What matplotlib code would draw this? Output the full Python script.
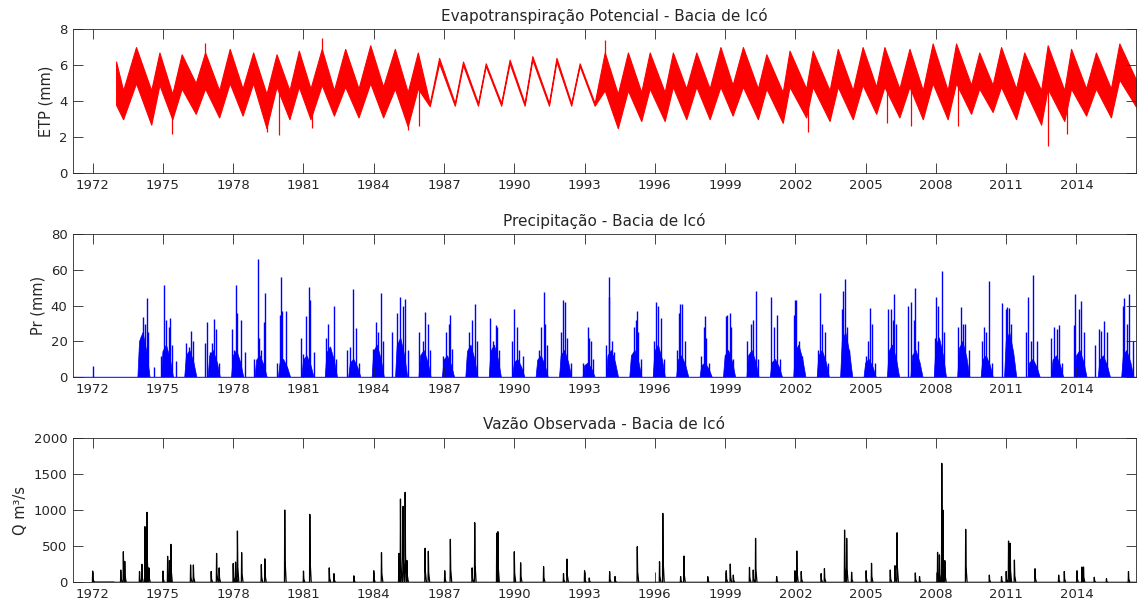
import numpy as np
import matplotlib
matplotlib.use('Agg')
import matplotlib.pyplot as plt

# Eixo do tempo (anos decimais)
x_ini, x_fim = 1971.16, 2016.54
anos_ticks = list(range(1972, 2015, 3))

# ETP: pontos de máximo/mínimo sazonal com faixa (inferior, superior)
etp_t = [1973.0, 1973.3, 1973.85, 1974.5, 1974.85, 1975.4, 1975.8, 1976.4, 1976.8,
         1977.4, 1977.85, 1978.4, 1978.85, 1979.42, 1979.85, 1980.4, 1980.8, 1981.3,
         1981.78, 1982.3, 1982.78, 1983.35, 1983.85, 1984.4, 1984.9, 1985.45, 1985.88,
         1986.39, 1986.79, 1987.46, 1987.81, 1988.45, 1988.78, 1989.44, 1989.8, 1990.44,
         1990.77, 1991.48, 1991.8, 1992.43, 1992.79, 1993.43, 1993.86, 1994.42, 1994.85,
         1995.42, 1995.78, 1996.42, 1996.77, 1997.34, 1997.77, 1998.34, 1998.8, 1999.32,
         1999.76, 2000.4, 2000.76, 2001.46, 2001.75, 2002.46, 2002.74, 2003.46, 2003.81,
         2004.45, 2004.87, 2005.45, 2005.8, 2006.44, 2006.87, 2007.44, 2007.86, 2008.5,
         2008.86, 2009.5, 2009.85, 2010.42, 2010.78, 2011.42, 2011.77, 2012.49, 2012.77,
         2013.48, 2013.77, 2014.41, 2014.83, 2015.47, 2015.83, 2016.54]
etp_sup = [6.2, 4.6, 7.0, 4.6, 6.7, 4.4, 6.6, 5.0, 6.7,
           4.6, 6.9, 4.7, 6.7, 4.4, 6.6, 4.6, 6.8, 4.7,
           6.9, 4.6, 6.9, 4.7, 7.1, 4.8, 6.9, 4.5, 6.7,
           3.88, 6.4, 3.9, 6.2, 3.9, 6.1, 3.9, 6.3, 3.9,
           6.5, 3.9, 6.4, 3.9, 6.1, 3.9, 6.7, 4.4, 6.7,
           4.5, 6.7, 4.5, 6.7, 4.7, 6.7, 4.7, 7.0, 4.9,
           7.0, 4.7, 6.6, 4.5, 6.8, 4.7, 6.8, 4.6, 6.9,
           4.6, 7.0, 4.8, 7.0, 4.7, 6.9, 4.6, 7.2, 4.6,
           7.2, 4.9, 6.7, 4.9, 7.0, 4.7, 6.7, 4.6, 7.1,
           4.6, 6.9, 4.7, 6.7, 4.7, 7.2, 5.2]
etp_inf = [3.8, 3.0, 5.0, 2.7, 4.9, 3.0, 4.7, 3.3, 4.7,
           3.1, 5.0, 3.2, 5.0, 2.5, 4.8, 3.0, 4.8, 3.0,
           4.9, 3.2, 4.8, 3.1, 5.0, 3.1, 4.7, 2.6, 4.7,
           3.72, 6.1, 3.75, 6.0, 3.75, 5.95, 3.75, 6.1, 3.75,
           6.3, 3.75, 6.2, 3.75, 5.95, 3.75, 4.6, 2.5, 4.6,
           2.9, 4.7, 2.9, 4.8, 3.0, 4.8, 3.0, 4.8, 3.2,
           4.8, 3.0, 4.7, 2.8, 4.8, 3.1, 4.8, 2.9, 4.8,
           3.0, 4.9, 3.3, 4.8, 3.1, 4.8, 3.0, 5.0, 3.0,
           5.0, 3.3, 4.7, 3.4, 4.8, 3.0, 4.7, 2.7, 4.7,
           2.9, 4.7, 3.2, 4.7, 3.1, 5.2, 3.7]
# valores isolados fora da faixa
etp_pico_t = [1975.4, 1976.8, 1979.45, 1979.94, 1981.35, 1981.78, 1985.45, 1985.92,
              1993.86, 2002.55, 2005.9, 2006.95, 2008.95, 2012.77, 2013.6]
etp_pico_v = [2.2, 7.2, 2.3, 2.1, 2.5, 7.5, 2.4, 2.6, 7.4, 2.3, 2.8, 2.6, 2.6, 1.5, 2.2]

# Precipitação: maiores eventos diários de cada estação chuvosa
pr_t = [1972.0,
        1974.05, 1974.16, 1974.22, 1974.3, 1974.35, 1974.6,
        1974.9, 1975.05, 1975.15, 1975.25, 1975.3, 1975.4, 1975.55,
        1976.0, 1976.12, 1976.19, 1976.3,
        1976.78, 1976.89, 1977.0, 1977.1, 1977.17, 1977.28, 1977.4,
        1977.95, 1978.05, 1978.11, 1978.15, 1978.35, 1978.5,
        1978.9, 1979.04, 1979.1, 1979.2, 1979.3, 1979.35,
        1979.85, 1980.0, 1980.03, 1980.1, 1980.27,
        1980.9, 1981.0, 1981.1, 1981.23, 1981.28, 1981.45,
        1981.95, 1982.06, 1982.15, 1982.31, 1982.4,
        1982.85, 1983.0, 1983.13, 1983.25, 1983.35,
        1983.95, 1984.1, 1984.2, 1984.3, 1984.4,
        1984.8, 1985.0, 1985.14, 1985.25, 1985.33, 1985.45,
        1985.95, 1986.1, 1986.18, 1986.3, 1986.4,
        1986.95, 1987.1, 1987.2, 1987.27, 1987.35,
        1988.05, 1988.2, 1988.31, 1988.4,
        1988.98, 1989.1, 1989.2, 1989.28, 1989.35,
        1989.9, 1989.99, 1990.1, 1990.2, 1990.35,
        1991.05, 1991.15, 1991.25, 1991.3, 1991.4,
        1991.98, 1992.1, 1992.15, 1992.25, 1992.4,
        1992.95, 1993.14, 1993.2, 1993.28, 1993.35,
        1993.9, 1994.03, 1994.05, 1994.15, 1994.25,
        1995.1, 1995.2, 1995.23, 1995.3, 1995.4,
        1995.95, 1996.06, 1996.15, 1996.25, 1996.4,
        1996.95, 1997.05, 1997.08, 1997.15, 1997.3,
        1997.95, 1998.1, 1998.14, 1998.2, 1998.3,
        1999.05, 1999.1, 1999.19, 1999.25, 1999.35,
        1999.95, 2000.1, 2000.2, 2000.3, 2000.4,
        2000.97, 2001.1, 2001.2, 2001.35,
        2001.92, 2001.98, 2002.03, 2002.15, 2002.3,
        2002.95, 2003.06, 2003.15, 2003.25, 2003.4,
        2004.0, 2004.05, 2004.12, 2004.2, 2004.3,
        2005.0, 2005.1, 2005.2, 2005.27, 2005.4,
        2005.95, 2006.1, 2006.15, 2006.23, 2006.3,
        2006.8, 2006.95, 2007.05, 2007.12, 2007.25,
        2007.95, 2008.02, 2008.1, 2008.25, 2008.35,
        2008.95, 2009.07, 2009.15, 2009.25, 2009.4,
        2009.95, 2010.05, 2010.15, 2010.28, 2010.4,
        2010.8, 2010.98, 2011.05, 2011.1, 2011.2,
        2011.85, 2011.95, 2012.05, 2012.13, 2012.3,
        2012.9, 2013.05, 2013.15, 2013.25, 2013.4,
        2013.9, 2013.95, 2014.1, 2014.2, 2014.3,
        2014.8, 2014.95, 2015.05, 2015.19, 2015.3,
        2016.0, 2016.04, 2016.15, 2016.25, 2016.4]
pr_v = [6.3,
        23, 33.5, 30, 44, 25, 6,
        12, 51.3, 32, 28, 33, 18, 9,
        19, 17, 26, 20,
        19, 31, 14, 19, 32.7, 27, 8,
        27, 15, 51.3, 36, 32, 14,
        10, 66, 22, 15, 31, 47,
        8, 35, 56, 37, 37,
        22, 13, 34, 50.6, 43, 14,
        22, 30, 17, 39.6, 10,
        15, 17, 49.5, 27.5, 8,
        16, 31, 25, 47, 20,
        25, 36, 44.7, 40, 43.5, 15,
        25, 20, 36.3, 30, 15,
        12, 25, 30, 34.6, 16,
        25, 32, 41, 20,
        33, 20, 29, 28, 15,
        20, 38, 28, 15, 12,
        15, 28, 47.4, 30, 18,
        25, 43, 42, 22, 8,
        8, 28, 22, 20, 10,
        18, 56, 45, 20, 14,
        28, 32, 37, 25, 10,
        20, 42, 40, 33, 10,
        15, 36, 41, 41, 20,
        12, 28, 34, 22, 8,
        34, 35, 36, 28, 10,
        20, 30, 32, 48, 10,
        45, 28, 35, 10,
        35, 43, 43, 20, 12,
        15, 47, 30, 25, 8,
        38, 48, 55, 28, 15,
        12, 20, 38.7, 30, 8,
        38, 38, 32, 46.5, 30,
        40, 42, 32, 50, 20,
        22, 45, 40, 59.5, 25,
        28, 39, 30, 30, 15,
        20, 28, 25, 53.6, 8,
        41.5, 38, 39, 38.7, 30,
        25, 45, 20, 57, 20,
        22, 28, 27, 29, 8,
        29, 46.5, 38, 42.8, 25,
        18, 27, 26, 31.6, 25,
        40, 44, 30, 46.5, 20]
# altura típica da massa de chuvas diárias em cada estação
pr_anos = list(range(1974, 2017))
pr_massa = [25, 18, 15, 15, 15, 12, 10, 12, 17, 10, 18, 22, 15, 12, 18, 18, 10, 12,
            15, 8, 15, 15, 18, 12, 8, 15, 15, 10, 18, 15, 25, 10, 18, 15, 22, 20,
            12, 25, 10, 12, 15, 12, 15]

# Vazão observada: picos das cheias
q_t = [1972.0, 1973.2, 1973.31, 1973.37,
       1974.0, 1974.1, 1974.23, 1974.28, 1974.32, 1974.4,
       1975.0, 1975.2, 1975.28, 1975.34,
       1976.18, 1976.3, 1977.06, 1977.29, 1977.4,
       1978.0, 1978.1, 1978.18, 1978.36, 1979.2, 1979.35,
       1980.2, 1981.0, 1981.27, 1982.1, 1982.3, 1983.15,
       1984.0, 1984.33, 1985.07, 1985.14, 1985.25, 1985.34, 1985.42,
       1986.19, 1986.33, 1987.03, 1987.27, 1988.2, 1988.31,
       1989.25, 1989.3, 1990.0, 1990.27, 1991.25, 1992.1, 1992.25,
       1993.0, 1993.2, 1994.07, 1994.3, 1995.25, 1996.2, 1996.34,
       1997.1, 1997.24, 1998.26, 1999.05, 1999.22, 1999.35,
       2000.04, 2000.2, 2000.3, 2001.2, 2001.98, 2002.06, 2002.25,
       2003.1, 2003.24, 2004.1, 2004.19, 2004.4, 2005.02, 2005.25,
       2006.05, 2006.25, 2006.34, 2007.12, 2007.3,
       2008.07, 2008.15, 2008.25, 2008.3, 2008.38, 2009.27,
       2010.28, 2010.8, 2011.0, 2011.1, 2011.17, 2011.35,
       2012.23, 2013.24, 2013.48, 2014.02, 2014.23, 2014.3,
       2014.76, 2015.28, 2016.22]
q_v = [156, 170, 423, 290,
       150, 250, 770, 700, 968, 200,
       156, 360, 300, 525,
       240, 240, 150, 400, 200,
       260, 280, 710, 411, 245, 325,
       1000, 156, 940, 200, 120, 90,
       160, 411, 400, 1152, 1050, 1245, 300,
       470, 430, 160, 595, 200, 825,
       680, 700, 423, 270, 216, 120, 322,
       160, 60, 147, 80, 493, 285, 954,
       80, 364, 78, 160, 253, 100,
       207, 170, 608, 80, 160, 433, 150,
       120, 190, 723, 608, 140, 160, 263,
       170, 230, 686, 130, 80,
       415, 380, 1646, 1000, 300, 733,
       100, 80, 150, 571, 540, 308,
       188, 100, 150, 160, 212, 212,
       70, 50, 147]

cinza = '#262626'
fig = plt.figure(figsize=(11.37, 6.09), dpi=100)
posicoes = [[0.0642, 0.7154, 0.9349, 0.2369],
            [0.0642, 0.3805, 0.9349, 0.2353],
            [0.0642, 0.0438, 0.9349, 0.2374]]
axs = [fig.add_axes(p) for p in posicoes]

# ETP
ax = axs[0]
ax.fill_between(etp_t, etp_inf, etp_sup, color='red', lw=0.8, edgecolor='red')
meio = np.interp(etp_pico_t, etp_t, (np.array(etp_inf) + np.array(etp_sup)) / 2)
ax.vlines(etp_pico_t, meio, etp_pico_v, color='red', lw=0.9)
ax.set_ylim(0, 8)
ax.set_yticks([0, 2, 4, 6, 8])
ax.set_ylabel('ETP (mm)')
ax.set_title('Evapotranspiração Potencial - Bacia de Icó')

# Precipitação: massa de chuvas da estação + eventos maiores
ax = axs[1]
ax.plot([x_ini, x_fim], [0, 0], color='blue', lw=1)
for ano, b in zip(pr_anos, pr_massa):
    ax.fill([ano - 0.07, ano, ano + 0.15, ano + 0.32, ano + 0.45],
            [0, 0.8 * b, b, 0.55 * b, 0], color='blue', lw=0.5)
ax.vlines(pr_t, 0, pr_v, color='blue', lw=1.0)
ax.set_ylim(0, 80)
ax.set_yticks([0, 20, 40, 60, 80])
ax.set_ylabel('Pr (mm)')
ax.set_title('Precipitação - Bacia de Icó')

# Vazão: hidrograma com subida rápida e recessão
tq, vq = [1972.9], [0]
for t, v in zip(q_t, q_v):
    tq += [t - 0.012, t, t + 0.015, t + 0.06]
    vq += [0, v, 0.3 * v, 0]
tq.append(x_fim)
vq.append(0)
ax = axs[2]
ax.plot(tq, vq, color='black', lw=0.9)
ax.set_ylim(0, 2000)
ax.set_yticks([0, 500, 1000, 1500, 2000])
ax.set_ylabel('Q m³/s')
ax.set_title('Vazão Observada - Bacia de Icó')

for ax in axs:
    ax.set_xlim(x_ini, x_fim)
    ax.set_xticks(anos_ticks)
    ax.tick_params(direction='in', top=True, right=True, length=7, width=0.6,
                   labelsize=9.5, colors=cinza, pad=4)
    for s in ax.spines.values():
        s.set_color(cinza)
        s.set_linewidth(0.6)
    ax.title.set_fontsize(11)
    ax.title.set_color(cinza)
    ax.yaxis.label.set_fontsize(10.5)
    ax.yaxis.label.set_color(cinza)

fig.savefig('out.png', dpi=100)
